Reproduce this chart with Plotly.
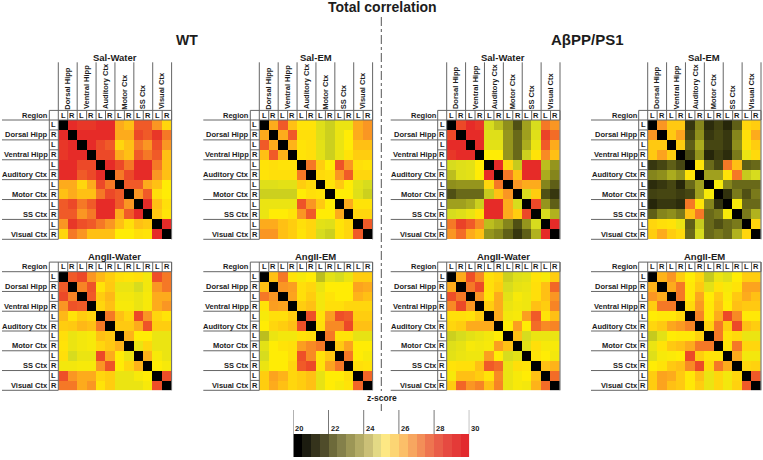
import plotly.graph_objects as go

W, H = 763, 460

region_names = ["Dorsal Hipp", "Ventral Hipp", "Auditory Ctx", "Motor Ctx", "SS Ctx", "Visual Ctx"]
sides = ["L", "R"]

# upper triangles (row i starts at the diagonal)
wt_sal_water = [
    [20, 29.5, 29, 29, 29.5, 29.5, 26.5, 26, 28, 28, 27, 25.5],
    [20, 29.5, 29.5, 29.5, 29.5, 26.5, 26.5, 28.5, 28, 29, 27.5],
    [20, 29.5, 28.5, 28, 25.5, 26, 27.5, 27, 28.3, 27],
    [20, 28.5, 28.5, 26.5, 26, 28, 27.5, 28, 26],
    [20, 29.5, 28.5, 27.5, 29.5, 29.5, 27.5, 26],
    [20, 27.5, 28.5, 29.5, 29.5, 27, 26],
    [20, 28, 28, 26.5, 26, 25],
    [20, 27, 28, 25.3, 25],
    [20, 29.5, 26, 25.3],
    [20, 25.8, 25.2],
    [20, 29.5],
    [20],
]
wt_sal_em = [
    [20, 26.5, 28, 26, 25.2, 25.2, 24.2, 23.8, 24.5, 24.5, 26.5, 27],
    [20, 26.5, 28, 25.3, 25.3, 24.2, 23.8, 24.5, 25, 26.5, 27],
    [20, 26.3, 25.2, 25.3, 24.3, 23.8, 24.5, 25, 26, 26],
    [20, 25.2, 25.3, 24.3, 23.8, 24.5, 25.2, 25.7, 25.7],
    [20, 27.5, 25.7, 25, 28.2, 27, 25.3, 25.2],
    [20, 25.4, 25.3, 27, 28, 25.5, 25.5],
    [20, 25.2, 25.8, 25, 24.3, 24],
    [20, 25, 25, 24.2, 23.8],
    [20, 26.5, 25.2, 25.2],
    [20, 25.5, 25.5],
    [20, 28],
    [20],
]
ab_sal_water = [
    [20, 28.5, 29.5, 29, 24, 23.5, 22.7, 21.5, 23, 24, 27.5, 27],
    [20, 29.5, 29.5, 24.2, 24.2, 22.8, 22, 23, 24.2, 28.7, 27.7],
    [20, 29.5, 24.3, 24.3, 22.8, 22, 23.2, 24.5, 28, 26.5],
    [20, 25, 25, 22.8, 22, 23.8, 25.2, 27.2, 26],
    [20, 29.5, 25.5, 23.7, 29.5, 29.5, 23.5, 22.8],
    [20, 27.5, 26, 29.5, 29.5, 23.2, 22.5],
    [20, 27, 26.5, 26.5, 22.5, 21.8],
    [20, 24, 25.7, 21.5, 21],
    [20, 28.5, 22.8, 21.8],
    [20, 24, 23.3],
    [20, 29.5],
    [20],
]
ab_sal_em = [
    [20, 27, 25.8, 25.8, 21, 22.5, 20.8, 21.2, 20.7, 21.8, 25.5, 25.7],
    [20, 25.8, 26.7, 21.3, 22.7, 21, 21.3, 21, 22.5, 25.3, 26.5],
    [20, 25.7, 21.8, 23.2, 21.3, 21.3, 21, 22.7, 25.2, 25.7],
    [20, 21.3, 22.8, 20.7, 21.1, 20.8, 22.3, 24.5, 25.4],
    [20, 25.2, 22, 21.3, 27.5, 26, 21.8, 22],
    [20, 23, 23, 25.2, 27.5, 23.7, 24],
    [20, 24.8, 22.5, 22, 22, 22],
    [20, 20.9, 22.3, 21.5, 22.3],
    [20, 24.8, 22, 22],
    [20, 22.3, 23.3],
    [20, 25.5],
    [20],
]
wt_ang_water = [
    [20, 28, 28.5, 27, 26.2, 25.7, 25.3, 25.2, 25.3, 24.7, 28.3, 27.5],
    [20, 27.3, 28.2, 25.2, 25.8, 24.5, 24.5, 24, 24.7, 27, 27.5],
    [20, 28, 25.7, 26.2, 24.7, 24.7, 24.5, 24.8, 26.5, 26.5],
    [20, 25.5, 26, 24.8, 24.8, 24.5, 24.8, 26.5, 27],
    [20, 27.5, 26, 25.5, 28.5, 27, 25.5, 25.2],
    [20, 25.8, 25.8, 26.5, 28.2, 25.7, 25.7],
    [20, 26.3, 25, 25, 24.5, 24.5],
    [20, 24.5, 25.5, 24.5, 24.5],
    [20, 26.3, 24.8, 24.5],
    [20, 25, 24.8],
    [20, 28.3],
    [20],
]
wt_ang_em = [
    [20, 26, 27.5, 25.2, 24.8, 25, 23.5, 24.3, 24, 24.5, 25.7, 25.7],
    [20, 27, 26.8, 25.3, 25.5, 24.5, 25, 25, 25, 26.7, 26.5],
    [20, 26.7, 25.3, 25.7, 24.7, 25.2, 25, 25, 26.3, 26],
    [20, 25.7, 26, 24.7, 25.3, 25.3, 25.5, 25.5, 25.5],
    [20, 28.3, 25.2, 26.8, 28.3, 28, 25.7, 25.7],
    [20, 25.3, 27.2, 27.2, 28.5, 26, 26],
    [20, 27.5, 25.2, 25.2, 24.4, 24.4],
    [20, 25.8, 26.7, 25, 25],
    [20, 27.5, 25, 24.8],
    [20, 25.3, 25.2],
    [20, 27.8],
    [20],
]
ab_ang_water = [
    [20, 26.5, 28.3, 27.2, 25.3, 25.5, 23.8, 24.2, 24.3, 25.2, 24.8, 25.7],
    [20, 27.5, 28.5, 25.3, 25.7, 24, 24.4, 24.5, 25.3, 26, 27.8],
    [20, 27, 25.2, 26.5, 24.3, 24.8, 24.6, 25.3, 26, 27],
    [20, 25.7, 26.5, 24.5, 24.7, 24.6, 26, 25.7, 27.3],
    [20, 26.5, 24.7, 24.8, 26.8, 28, 25.2, 26],
    [20, 25, 26.8, 25, 27.7, 27.2, 27.3],
    [20, 26, 24, 24.5, 24.5, 24.5],
    [20, 24.3, 25.3, 24.8, 24.8],
    [20, 25.2, 25, 24.7],
    [20, 26, 26.3],
    [20, 27.7],
    [20],
]
ab_ang_em = [
    [20, 26.3, 27, 25.7, 25, 25.5, 23.7, 24.5, 24.2, 25, 25.7, 25.7],
    [20, 26.5, 27.5, 25.1, 25.8, 24.3, 25.2, 24.8, 25.2, 26.7, 26.7],
    [20, 27.5, 25.1, 26.6, 25, 25.8, 24.9, 25.8, 26.5, 26],
    [20, 25.4, 26.9, 25.1, 26, 25, 26, 25.8, 25.8],
    [20, 27.3, 25.1, 26.5, 28.5, 27.2, 25.1, 25.1],
    [20, 25.6, 27.5, 25.7, 28.5, 26, 25.7],
    [20, 27.5, 25.2, 25.4, 24.5, 24.5],
    [20, 25.2, 27.5, 25.5, 25.5],
    [20, 26.5, 24.7, 24.7],
    [20, 25.5, 25.6],
    [20, 28],
    [20],
]

colorbar_levels = [20, 20.5, 21, 21.5, 22, 22.5, 23, 23.5, 24, 24.5,
                   25, 25.5, 26, 26.5, 27, 27.5, 28, 28.5, 29, 29.5, 30]
colorbar_colors = ["#000000", "#1c1c10", "#35331c", "#4f4c2a", "#6d6a3a", "#84804a", "#9c9656",
                   "#b3ab66", "#cbc077", "#e3d985", "#fde884", "#fcd574", "#fbbf69", "#f7a660",
                   "#f38e58", "#ee7550", "#e95e49", "#e64a41", "#e43a38", "#e22a2e"]
colorbar_ticks = [20, 22, 24, 26, 28, 30]

heat_scale = [
    [0.0, "rgb(0,0,0)"], [0.1, "rgb(55,55,15)"], [0.2, "rgb(105,105,25)"],
    [0.3, "rgb(160,160,30)"], [0.4, "rgb(215,220,30)"], [0.5, "rgb(255,236,5)"],
    [0.6, "rgb(255,192,20)"], [0.7, "rgb(250,150,35)"], [0.8, "rgb(240,90,40)"],
    [0.9, "rgb(232,55,40)"], [1.0, "rgb(228,30,40)"],
]

INK = "#1c1c1c"
LINE = "#666666"
FONT = "Liberation Sans"


def px(x):
    return x / W


def py(y):
    return 1 - y / H


def mirror(upper):
    m = [[0.0] * 12 for _ in range(12)]
    for i, row in enumerate(upper):
        for k, v in enumerate(row):
            m[i][i + k] = v
            m[i + k][i] = v
    return m


GX = [58.3, 259.3, 446.7, 647.7]
GW = 113.3
LEFT = [2, 203.3, 390.7, 591]
TOP_Y, TOP_H = 120, 119.3
BOT_Y, BOT_H = 271.7, 118.6
HEAD = 9.6
LAB = 9

panels = [
    (wt_sal_water, "Sal-Water", 0, TOP_Y, TOP_H, True),
    (wt_sal_em, "Sal-EM", 1, TOP_Y, TOP_H, True),
    (ab_sal_water, "Sal-Water", 2, TOP_Y, TOP_H, True),
    (ab_sal_em, "Sal-EM", 3, TOP_Y, TOP_H, True),
    (wt_ang_water, "AngII-Water", 0, BOT_Y, BOT_H, False),
    (wt_ang_em, "AngII-EM", 1, BOT_Y, BOT_H, False),
    (ab_ang_water, "AngII-Water", 2, BOT_Y, BOT_H, False),
    (ab_ang_em, "AngII-EM", 3, BOT_Y, BOT_H, False),
]

fig = go.Figure()
layout = {}
shapes = []
annots = []


def seg(x0, y0, x1, y1, color=LINE, width=1, dash=None):
    line = dict(color=color, width=width)
    if dash:
        line["dash"] = dash
    shapes.append(dict(type="line", xref="paper", yref="paper", x0=px(x0), y0=py(y0),
                       x1=px(x1), y1=py(y1), line=line, layer="above"))


def text(x, y, s, size=7.5, anchor="center", angle=0, bold=True, valign="middle"):
    annots.append(dict(xref="paper", yref="paper", x=px(x), y=py(y), text=f"<b>{s}</b>" if bold else s,
                       showarrow=False, xanchor=anchor, yanchor=valign, textangle=angle,
                       font=dict(family=FONT, size=size, color=INK), borderpad=0, borderwidth=0))


for idx, (upper, title, col, gy, gh, tall) in enumerate(panels, start=1):
    gx = GX[col]
    left = LEFT[col]
    cw = GW / 12
    ch = gh / 12
    fig.add_trace(go.Heatmap(z=mirror(upper), zmin=20, zmax=30, colorscale=heat_scale, showscale=False,
                             xaxis=f"x{idx}", yaxis=f"y{idx}", hoverongaps=False))
    layout[f"xaxis{idx}"] = dict(domain=[px(gx), px(gx + GW)], range=[-0.5, 11.5], visible=False,
                                 anchor=f"y{idx}", fixedrange=True)
    layout[f"yaxis{idx}"] = dict(domain=[py(gy + gh), py(gy)], range=[11.5, -0.5], visible=False,
                                 anchor=f"x{idx}", fixedrange=True)
    head_top = gy - HEAD
    # header box
    seg(gx - LAB, head_top, gx + GW, head_top)
    seg(gx - LAB, head_top, gx - LAB, gy + gh)
    for j in range(13):
        seg(gx + j * cw, head_top, gx + j * cw, gy)
        if j < 12:
            text(gx + (j + 0.5) * cw, gy - HEAD / 2, sides[j % 2], size=7.5)
    seg(gx + GW, head_top, gx + GW, gy + gh)
    # row grouping lines and row side labels
    for j in range(13):
        if j % 2 == 0:
            seg(left, gy + j * ch, gx + (GW if j == 0 else 0), gy + j * ch)
        else:
            seg(gx - LAB, gy + j * ch, gx, gy + j * ch)
        if j < 12:
            text(gx - LAB / 2, gy + (j + 0.5) * ch, sides[j % 2], size=7.5)
    seg(gx, gy, gx, gy + gh)
    text(gx - LAB - 1, gy - HEAD / 2, "Region", size=7.5, anchor="right")
    for g, name in enumerate(region_names):
        text(gx - LAB - 1, gy + (2 * g + 1.5) * ch, name, size=7.5, anchor="right")
        if tall:
            text(gx + (2 * g + 1) * cw, head_top - 1, name, size=7.5, angle=-90, valign="bottom")
            seg(gx + 2 * g * cw, 62.3, gx + 2 * g * cw, head_top)
    if tall:
        seg(gx + GW, 62.3, gx + GW, head_top)
        text(gx + GW / 2, 57, title, size=9.5)
    else:
        text(gx + GW / 2, 256, title, size=9.5)

# colour bar
cb = len(panels) + 1
n = len(colorbar_colors)
step_scale = []
for i, c in enumerate(colorbar_colors):
    step_scale += [[i / n, c], [(i + 1) / n, c]]
fig.add_trace(go.Heatmap(x=colorbar_levels, y=[0, 1], z=[colorbar_levels[:-1]], zmin=20, zmax=30,
                         colorscale=step_scale, showscale=False, xaxis=f"x{cb}", yaxis=f"y{cb}"))
layout[f"xaxis{cb}"] = dict(domain=[px(293.3), px(469.3)], range=[20, 30], visible=False,
                            anchor=f"y{cb}", fixedrange=True)
layout[f"yaxis{cb}"] = dict(domain=[py(457.3), py(434)], range=[0, 1], visible=False,
                            anchor=f"x{cb}", fixedrange=True)
for t in colorbar_ticks:
    shapes.append(dict(type="line", xref=f"x{cb}", yref="paper", x0=t, x1=t, y0=py(410), y1=py(434),
                       line=dict(color="#777777", width=1), layer="above"))
    annots.append(dict(xref=f"x{cb}", yref="paper", x=t, y=py(428), xshift=1, text=f"<b>{t}</b>",
                       showarrow=False, xanchor="left", yanchor="middle",
                       font=dict(family=FONT, size=7.5, color=INK), borderpad=0))

# headings and divider
text(382, 7, "Total correlation", size=14)
text(187, 40, "WT", size=14)
text(587, 40, "AβPP/PS1", size=15)
text(382, 398, "z-score", size=8.5)
seg(381.3, 17, 381.3, 391, color="#555555", dash="dashdot")
seg(381.3, 404, 381.3, 411, color="#555555", dash="dashdot")

fig.update_layout(width=W, height=H, autosize=False, margin=dict(l=0, r=0, t=0, b=0),
                  paper_bgcolor="white", plot_bgcolor="white", showlegend=False,
                  shapes=shapes, annotations=annots, **layout)

fig.write_html("out.html", config={"displayModeBar": False},
               post_script="document.body.style.margin='0';document.body.style.overflow='hidden';")
